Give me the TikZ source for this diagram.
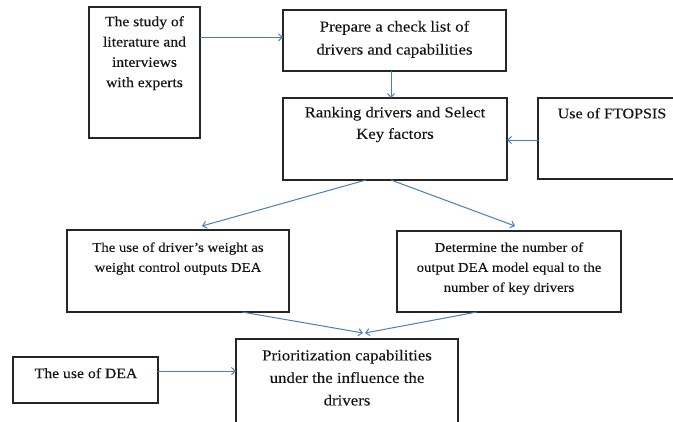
\documentclass[tikz,border=0pt]{standalone}
\usepackage{fontspec}
\setmainfont[FakeStretch=1.1,FakeBold=0.15]{Liberation Serif}
\usetikzlibrary{arrows.meta,calc}
\definecolor{arrowblue}{HTML}{4A7EBB}
\definecolor{boxline}{HTML}{262626}
\newcommand\fsA{\fontsize{14.2}{20.3}\selectfont}
\newcommand\fsB{\fontsize{15.3}{23}\selectfont}
\newcommand\fsC{\fontsize{15.2}{21.5}\selectfont}
\newcommand\fsD{\fontsize{14.6}{20}\selectfont}
\newcommand\fsE{\fontsize{13.4}{20}\selectfont}
\newcommand\fsG{\fontsize{14.3}{20}\selectfont}
\newcommand\fsH{\fontsize{15.3}{22.5}\selectfont}
\begin{document}
\begin{tikzpicture}[x=1pt,y=-1pt,
  box/.style={draw=boxline, line width=1.05pt, inner sep=0pt, outer sep=0pt, anchor=north west},
  txt/.style={inner sep=0pt, outer sep=0pt, align=center, anchor=north, text=black!92},
  arr/.style={draw=arrowblue, line width=1pt, -{Straight Barb[length=3.8pt,width=7pt]}}]
\useasboundingbox (0,0) rectangle (673,421);
\clip (0,0) rectangle (673,421);
\fill[white] (0,0) rectangle (673,421);
% boxes
\node[box, minimum width=111pt, minimum height=131pt] (A) at (89,7) {};
\node[box, minimum width=223pt, minimum height=61pt] (B) at (283,10) {};
\node[box, minimum width=224pt, minimum height=82pt] (C) at (283,98) {};
\node[box, minimum width=150pt, minimum height=81pt] (D) at (538,98) {};
\node[box, minimum width=222pt, minimum height=82pt] (E) at (67,230) {};
\node[box, minimum width=224pt, minimum height=81pt] (F) at (397,231) {};
\node[box, minimum width=145pt, minimum height=46pt] (G) at (13,357) {};
\node[box, minimum width=222pt, minimum height=100pt] (H) at (236,339) {};
% texts
\node[txt, font=\fsA] (tA) at (144.5,16.2) {The study of\\literature and\\interviews\\with experts};
\node[txt, font=\fsB] (tB) at (394.5,20.8) {Prepare a check list of\\drivers and capabilities};
\node[txt, font=\fsC] (tC) at (395,106.8) {Ranking drivers and Select\\Key factors};
\node[txt, font=\fsD] (tD) at (612,108) {Use of FTOPSIS};
\node[txt, font=\fsE] (tE) at (178,242.4) {The use of driver’s weight as\\weight control outputs DEA};
\node[txt, font=\fsE] (tF) at (509,242.4) {Determine the number of\\output DEA model equal to the\\number of key drivers};
\node[txt, font=\fsG] (tG) at (86,368) {The use of DEA};
\node[txt, font=\fsH] (tH) at (347,349.8) {Prioritization capabilities\\under the influence the\\drivers};
% connectors
\draw[arr] ([yshift=-30.3pt]A.north east) -- ([yshift=-27.3pt]B.north west);
\draw[arr] ([xshift=108pt]B.south west) -- ([xshift=108pt]C.north west);
\draw[arr] ([yshift=-42pt]D.north west) -- ([yshift=-42pt]C.north east);
\draw[arr] ([xshift=83pt]C.south west) -- ([xshift=135pt,yshift=4pt]E.north west);
\draw[arr] ([xshift=108pt]C.south west) -- ([xshift=118pt,yshift=5pt]F.north west);
\draw[arr] ([xshift=175pt]E.south west) -- ([xshift=127pt,yshift=6pt]H.north west);
\draw[arr] ([xshift=80pt]F.south west) -- ([xshift=129pt,yshift=6pt]H.north west);
\draw[arr] ([yshift=-14pt]G.north east) -- ([yshift=-32pt]H.north west);
\end{tikzpicture}
\end{document}
